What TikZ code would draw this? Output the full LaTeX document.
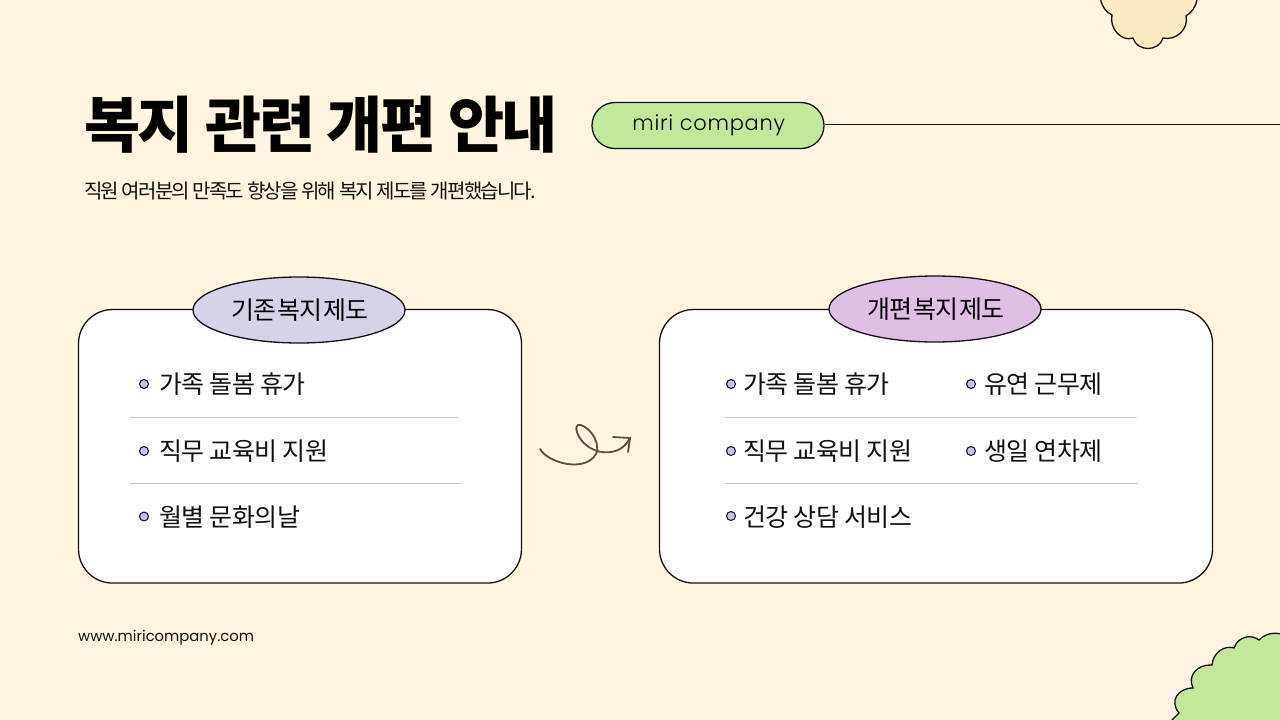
\documentclass[tikz,border=0pt]{standalone}
\usepackage{fontspec}
\setmainfont{Noto Sans CJK KR}
\newfontfamily\titlefont[LetterSpace=-4,BoldFont={Noto Sans CJK KR Black}]{Noto Sans CJK KR}
\newfontfamily\subfont[LetterSpace=-9]{Noto Sans CJK KR}
\newfontfamily\itemfont[LetterSpace=-2]{Noto Sans CJK KR}
\newfontfamily\badgefont[LetterSpace=-5.5,WordSpace=0.35]{Noto Sans CJK KR}
\newfontfamily\latinfont{Poppins}
\newfontfamily\pillfont[LetterSpace=3.5]{Poppins Light}
\definecolor{paper}{HTML}{FFF5E0}
\definecolor{ink}{HTML}{111111}
\definecolor{leaf}{HTML}{C4E89A}
\definecolor{cream}{HTML}{FFEBC2}
\definecolor{oldbadge}{HTML}{D5D3E8}
\definecolor{newbadge}{HTML}{E0BFE4}
\definecolor{dotfill}{HTML}{C5C0EE}
\definecolor{rulegray}{HTML}{C8C8C8}
\definecolor{swirl}{HTML}{5B4F44}
\tikzset{
  panel/.style={draw=ink,fill=white,line width=1.3pt,rounded corners=34pt,minimum height=273.5pt,inner sep=0pt},
  badge/.style={draw=ink,ellipse,line width=1.3pt,minimum width=212pt,minimum height=66pt,inner sep=0pt,font=\badgefont\fontsize{25}{28}\selectfont},
  dotmark/.style={draw=ink,circle,fill=dotfill,line width=1pt,minimum size=9pt,inner sep=0pt},
  item/.style={anchor=west,inner sep=0pt,text=ink,font=\itemfont\fontsize{25}{30}\selectfont},
  rowline/.style={draw=rulegray,line width=0.8pt}
}
\usetikzlibrary{shapes.geometric}
\begin{document}
\begin{tikzpicture}[x=1pt,y=-1pt]
    \useasboundingbox[fill=paper] (0,0) rectangle (1280,720);

    % clouds
    \draw[fill=cream,draw=ink,line width=1.3pt] (1100.5,-1)
        .. controls (1102,7) and (1106,12) .. (1112,15)
        .. controls (1109,29) and (1122,42) .. (1133,38)
        .. controls (1137,52) and (1159,52) .. (1163,38)
        .. controls (1176,41) and (1189,29) .. (1186,16)
        .. controls (1192,12) and (1196,7) .. (1197,-1);
    \draw[fill=leaf,draw=ink,line width=1.3pt] (1171,721) -- (1179,713)
        .. controls (1169,701) and (1178,688) .. (1193,688)
        .. controls (1187,676) and (1197,664) .. (1212,665)
        .. controls (1213,652) and (1225,645) .. (1234,648)
        .. controls (1238,636) and (1252,634) .. (1259,640)
        .. controls (1265,634) and (1273,632) .. (1281,634)
        -- (1281,721) -- cycle;

    % head
    \node[anchor=west,inner sep=0pt,text=black,font=\titlefont\bfseries\fontsize{61}{70}\selectfont] (title) at (84,125) {복지 관련 개편 안내};
    \node[anchor=west,inner sep=0pt,text=ink,font=\subfont\fontsize{20}{24}\selectfont] (subtitle) at (84,191) {직원 여러분의 만족도 향상을 위해 복지 제도를 개편했습니다.};
    \node[draw=ink,fill=leaf,line width=1.3pt,rounded corners=23pt,minimum width=232pt,minimum height=46pt,inner sep=0pt,font=\pillfont\fontsize{21}{25}\selectfont] (pill) at (708,125.5) {\hspace{1.5pt}miri company};
    \coordinate (lineend) at (1280,124.5);
    \draw[ink,line width=1pt] (pill.east |- lineend) -- (lineend);
    \node[anchor=west,inner sep=0pt,text=ink,font=\latinfont\fontsize{14.8}{20}\selectfont] (site) at (78,638) {www.miricompany.com};

    % left panel
    \node[panel,minimum width=443pt] (oldpanel) at (300,446.3) {};
    \node[badge,fill=oldbadge] (oldbadge) at (299,310) {\hspace{2pt}기존 복지 제도};
    \node[dotmark] (olddot1) at (144,384) {};
    \node[item] (olditem1) at (159,384.5) {가족 돌봄 휴가};
    \coordinate (oldrule1a) at (130,417.5);
    \coordinate (oldrule1b) at (458,417.5);
    \draw[rowline] (oldrule1a) -- (oldrule1b);
    \node[dotmark] (olddot2) at (144,451) {};
    \node[item] (olditem2) at (159,451.5) {직무 교육비 지원};
    \coordinate (oldrule2a) at (130,483.5);
    \coordinate (oldrule2b) at (461,483.5);
    \draw[rowline] (oldrule2a) -- (oldrule2b);
    \node[dotmark] (olddot3) at (144,516.5) {};
    \node[item] (olditem3) at (159,517) {월별 문화의날};

    % arrow
    \coordinate (swirlstart) at (540,449);
    \coordinate (swirltip) at (630,438);
    \draw[swirl,line width=1.8pt,line cap=round,line join=round] (swirlstart)
        .. controls (548,463) and (585,473) .. (596,454)
        .. controls (602,440) and (585,423) .. (578,425)
        .. controls (573,427) and (579,445) .. (597,451)
        .. controls (612,455) and (624,450) .. (swirltip);
    \coordinate (tipback) at (613,437);
    \coordinate (tipdown) at (628,452);
    \draw[swirl,line width=1.8pt,line cap=round,line join=round] (tipback) -- (swirltip) -- (tipdown);

    % right panel
    \node[panel,minimum width=553pt] (newpanel) at (936,446.3) {};
    \node[badge,fill=newbadge] (newbadge) at (935,309) {\hspace{2pt}개편 복지 제도};
    \node[dotmark] (newdot1) at (731,384) {};
    \node[item] (newitem1) at (743,384.5) {가족 돌봄 휴가};
    \node[dotmark] (newdot2) at (971,384) {};
    \node[item] (newitem2) at (984,384.5) {유연 근무제};
    \coordinate (newrule1a) at (725,417.5);
    \coordinate (newrule1b) at (1137,417.5);
    \draw[rowline] (newrule1a) -- (newrule1b);
    \node[dotmark] (newdot3) at (731,451) {};
    \node[item] (newitem3) at (743,451.5) {직무 교육비 지원};
    \node[dotmark] (newdot4) at (971,451) {};
    \node[item] (newitem4) at (984,451.5) {생일 연차제};
    \coordinate (newrule2a) at (725,483.5);
    \coordinate (newrule2b) at (1138,483.5);
    \draw[rowline] (newrule2a) -- (newrule2b);
    \node[dotmark] (newdot5) at (731,516) {};
    \node[item] (newitem5) at (743,517) {건강 상담 서비스};
\end{tikzpicture}
\end{document}
